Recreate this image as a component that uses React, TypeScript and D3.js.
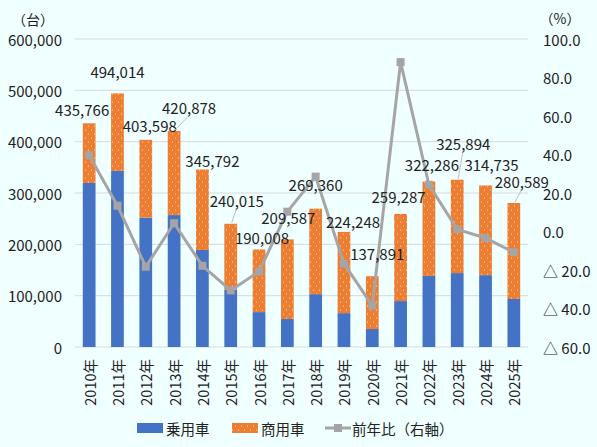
import { useEffect, useRef } from 'react'
import * as d3 from 'd3'

const years = ['2010年', '2011年', '2012年', '2013年', '2014年', '2015年', '2016年', '2017年', '2018年', '2019年', '2020年', '2021年', '2022年', '2023年', '2024年', '2025年']
const totals = [435766, 494014, 403598, 420878, 345792, 240015, 190008, 209587, 269360, 224248, 137891, 259287, 322286, 325894, 314735, 280589]
const passenger = [319500, 343000, 252000, 257000, 189000, 112000, 68000, 54500, 103000, 66000, 35000, 89500, 138500, 144000, 140000, 93500]
const growth = [39.6, 13.4, -18.3, 4.3, -17.8, -30.6, -20.8, 10.3, 28.5, -16.7, -38.5, 88.0, 24.3, 1.1, -3.4, -10.8]
const leftTicks = [0, 100000, 200000, 300000, 400000, 500000, 600000]
const rightTicks = [-60, -40, -20, 0, 20, 40, 60, 80, 100]

// label placement relative to bar top (px): [dx, dy, leader]
const labelOffsets: [number, number, boolean][] = [
  [-7, -14, false], [0, -22, false], [4, -14, false], [15, -23, true],
  [10, -9, false], [6, -23, true], [3, -12, false], [1, -22, false],
  [0, -24, false], [9, -10, false], [5, -23, false], [-2, -17, false],
  [3, -17, false], [6, -36, true], [6, -21, false], [8, -21, true],
]

const W = 597
const H = 447
const FONT = '"Noto Sans CJK JP", "Noto Sans", sans-serif'
const NUM = 15

export default function App() {
  const ref = useRef<SVGSVGElement | null>(null)

  useEffect(() => {
    const svg = d3.select(ref.current)
    svg.selectAll('*').remove()
    svg.attr('width', W).attr('height', H).style('font-family', FONT)

    svg.append('rect').attr('width', W).attr('height', H).attr('fill', '#f0ffff')

    const defs = svg.append('defs')
    const pat = defs.append('pattern').attr('id', 'dots').attr('patternUnits', 'userSpaceOnUse')
      .attr('width', 6).attr('height', 8)
    pat.append('rect').attr('width', 6).attr('height', 8).attr('fill', '#ed7d31')
    pat.append('circle').attr('cx', 1.5).attr('cy', 2).attr('r', 0.55).attr('fill', '#fff').attr('opacity', 0.85)
    pat.append('circle').attr('cx', 4.5).attr('cy', 6).attr('r', 0.55).attr('fill', '#fff').attr('opacity', 0.85)

    const left = 75, right = 528, top = 39, bottom = 347
    const x = d3.scaleBand().domain(years).range([left, right]).paddingInner(0.55).paddingOuter(0.275)
    const y = d3.scaleLinear().domain([0, 600000]).range([bottom, top])
    const y2 = d3.scaleLinear().domain([-60, 100]).range([bottom, top])
    const fmt = d3.format(',')

    // grid
    leftTicks.forEach((t) => {
      svg.append('line').attr('x1', left).attr('x2', right).attr('y1', y(t)).attr('y2', y(t))
        .attr('stroke', '#d9d9d9').attr('stroke-width', 1)
      svg.append('text').attr('x', 62).attr('y', y(t)).attr('text-anchor', 'end')
        .attr('dominant-baseline', 'central').attr('font-size', NUM).attr('fill', '#222').text(fmt(t))
    })
    rightTicks.forEach((t) => {
      const s = t < 0 ? `△ ${Math.abs(t).toFixed(1)}` : t.toFixed(1)
      svg.append('text').attr('x', 543).attr('y', y2(t)).attr('text-anchor', 'start')
        .attr('dominant-baseline', 'central').attr('font-size', NUM).attr('fill', '#222').text(s)
    })
    svg.append('text').attr('x', 33).attr('y', 19).attr('text-anchor', 'middle')
      .attr('dominant-baseline', 'central').attr('font-size', 14).attr('fill', '#222').text('（台）')
    svg.append('text').attr('x', 560).attr('y', 18).attr('text-anchor', 'middle')
      .attr('dominant-baseline', 'central').attr('font-size', 14).attr('fill', '#222').text('（%）')

    // bars
    const bw = x.bandwidth()
    years.forEach((yr, i) => {
      const x0 = x(yr)!
      svg.append('rect').attr('x', x0).attr('y', y(passenger[i])).attr('width', bw)
        .attr('height', y(0) - y(passenger[i])).attr('fill', '#4472c4')
      svg.append('rect').attr('x', x0).attr('y', y(totals[i])).attr('width', bw)
        .attr('height', y(passenger[i]) - y(totals[i])).attr('fill', 'url(#dots)')
    })

    // line
    const cx = (i: number) => x(years[i])! + bw / 2
    const line = d3.line<number>().x((_d, i) => cx(i)).y((d) => y2(d))
    svg.append('path').datum(growth).attr('d', line).attr('fill', 'none')
      .attr('stroke', '#a5a5a5').attr('stroke-width', 3).attr('stroke-linejoin', 'round')
    growth.forEach((g, i) => {
      svg.append('rect').attr('x', cx(i) - 4).attr('y', y2(g) - 4).attr('width', 8).attr('height', 8)
        .attr('fill', '#a5a5a5')
    })

    // total labels
    totals.forEach((t, i) => {
      const [dx, dy, leader] = labelOffsets[i]
      const bx = cx(i)
      const by = y(t)
      if (leader) {
        svg.append('line').attr('x1', bx + 1).attr('y1', by - 1).attr('x2', bx + dx * 0.9).attr('y2', by + dy + 9)
          .attr('stroke', '#bfbfbf').attr('stroke-width', 1)
      }
      svg.append('text').attr('x', bx + dx).attr('y', by + dy).attr('text-anchor', 'middle')
        .attr('dominant-baseline', 'central').attr('font-size', NUM).attr('fill', '#222').text(fmt(t))
    })

    // x labels
    years.forEach((yr, i) => {
      svg.append('text').attr('transform', `translate(${cx(i)},359) rotate(-90)`)
        .attr('text-anchor', 'end').attr('dominant-baseline', 'central')
        .attr('font-size', 14.5).attr('fill', '#222').text(yr)
    })

    // legend
    const lg = svg.append('g').attr('font-size', 14.5).attr('fill', '#222')
    lg.append('rect').attr('x', 137).attr('y', 423).attr('width', 26).attr('height', 10).attr('fill', '#4472c4')
    lg.append('text').attr('x', 166).attr('y', 428).attr('dominant-baseline', 'central').text('乗用車')
    lg.append('rect').attr('x', 232).attr('y', 423).attr('width', 26).attr('height', 10).attr('fill', 'url(#dots)')
    lg.append('text').attr('x', 261).attr('y', 428).attr('dominant-baseline', 'central').text('商用車')
    lg.append('line').attr('x1', 325).attr('x2', 351).attr('y1', 428).attr('y2', 428)
      .attr('stroke', '#a5a5a5').attr('stroke-width', 3)
    lg.append('rect').attr('x', 334).attr('y', 424).attr('width', 8).attr('height', 8).attr('fill', '#a5a5a5')
    lg.append('text').attr('x', 352).attr('y', 428).attr('dominant-baseline', 'central').text('前年比（右軸）')
  }, [])

  return <svg ref={ref} style={{ position: 'absolute', left: 0, top: 0 }} />
}
